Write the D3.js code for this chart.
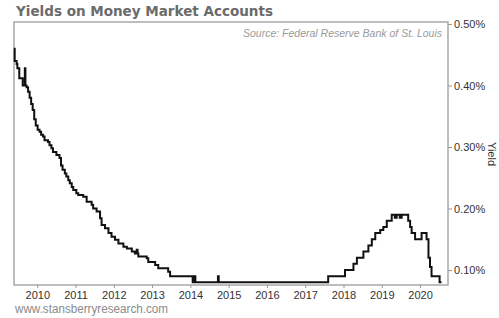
<!DOCTYPE html>
<html><head><meta charset="utf-8">
<script src="https://cdn.jsdelivr.net/npm/d3@7"></script>
<style>body{margin:0;background:#fff;}svg{display:block;}</style>
</head><body>
<svg id="c" width="499" height="318"></svg>
<script>
// Step series: date (fractional year) at which each level begins, and yield (%)
const dates = [2009.39,2009.41,2009.46,2009.48,2009.53,2009.62,2009.675,2009.69,2009.72,2009.76,2009.80,2009.84,2009.88,2009.92,2009.96,
  2010.01,2010.06,2010.10,2010.15,2010.19,2010.28,2010.32,2010.37,2010.41,2010.50,2010.58,2010.62,2010.66,2010.72,2010.76,2010.81,2010.85,2010.90,2010.94,
  2011.02,2011.07,2011.20,2011.29,2011.42,2011.46,2011.55,2011.64,2011.68,2011.77,2011.86,2011.94,
  2012.03,2012.12,2012.25,2012.34,2012.47,2012.55,2012.60,2012.62,2012.64,2012.86,2012.90,
  2013.08,2013.16,2013.42,2013.47,2014.06,2014.10,2014.13,2014.72,2014.74,
  2017.60,2018.04,2018.26,2018.35,2018.52,2018.65,2018.74,2018.83,2018.96,
  2019.04,2019.13,2019.26,2019.34,2019.39,2019.47,2019.52,2019.69,2019.74,2019.78,2019.87,
  2020.04,2020.17,2020.22,2020.26,2020.30,2020.51,2020.56];
const yields = [0.46,0.44,0.435,0.428,0.412,0.40,0.428,0.40,0.397,0.39,0.38,0.37,0.36,0.345,0.335,
  0.328,0.325,0.32,0.317,0.311,0.308,0.303,0.298,0.292,0.287,0.282,0.27,0.263,0.257,0.252,0.246,0.241,0.235,0.23,
  0.225,0.222,0.219,0.211,0.206,0.20,0.195,0.184,0.173,0.168,0.16,0.154,
  0.149,0.143,0.138,0.135,0.13,0.127,0.133,0.127,0.122,0.119,0.113,
  0.108,0.103,0.097,0.09,0.08,0.09,0.08,0.09,0.08,
  0.09,0.10,0.11,0.12,0.13,0.14,0.15,0.16,0.165,
  0.17,0.18,0.19,0.185,0.19,0.185,0.19,0.18,0.17,0.16,0.15,
  0.16,0.15,0.12,0.105,0.09,0.08,0.08];
const xTicks = [2010,2011,2012,2013,2014,2015,2016,2017,2018,2019,2020];
const yTicks = [0.10,0.20,0.30,0.40,0.50];
const title = "Yields on Money Market Accounts";
const source = "Source: Federal Reserve Bank of St. Louis";
const footer = "www.stansberryresearch.com";
const yLabel = "Yield";

const data = dates.map((d,i)=>({d, v: yields[i]}));
const L = 14, R = 448, T = 22, B = 285;
const x = d3.scaleLinear().domain([2009.392, 2020.73]).range([L, R]);
const y = d3.scaleLinear().domain([0.0756, 0.5033]).range([B, T]);
const svg = d3.select("#c");

// title
svg.append("text").attr("x", 16).attr("y", 16)
  .attr("font-family", "DejaVu Sans").attr("font-weight", "bold").attr("font-size", 14)
  .attr("fill", "#6b6b6b").attr("textLength", 257).attr("lengthAdjust", "spacingAndGlyphs").text(title);

// frame
svg.append("rect").attr("x", L).attr("y", T).attr("width", R - L).attr("height", B - T)
  .attr("fill", "none").attr("stroke", "#a8a8a8").attr("stroke-width", 1.5);

// axes
const xAxis = svg.append("g").attr("transform", `translate(0,${B})`)
  .call(d3.axisBottom(x).tickValues(xTicks).tickFormat(d3.format("d")).tickSize(3).tickPadding(3));
const yAxis = svg.append("g").attr("transform", `translate(${R},0)`)
  .call(d3.axisRight(y).tickValues(yTicks).tickFormat(d => d.toFixed(2) + "%").tickSize(4).tickPadding(2));
[xAxis, yAxis].forEach(g => {
  g.select(".domain").remove();
  g.selectAll("line").attr("stroke", "#999");
  g.selectAll("text").attr("fill", "#333").attr("font-family", "Liberation Sans, Arial").attr("font-size", 11);
});

// line
const line = d3.line().x(p => x(p.d)).y(p => y(p.v)).curve(d3.curveStepAfter);
svg.append("path").datum(data).attr("d", line)
  .attr("fill", "none").attr("stroke", "#111").attr("stroke-width", 2).attr("stroke-linejoin", "miter");

// source
svg.append("text").attr("x", 442).attr("y", 37).attr("text-anchor", "end")
  .attr("font-family", "Liberation Sans, Arial").attr("font-style", "italic").attr("font-size", 10.5)
  .attr("fill", "#9a9a9a").text(source);

// y label
svg.append("text").attr("transform", "translate(488,154) rotate(90)").attr("text-anchor", "middle")
  .attr("font-family", "Liberation Sans, Arial").attr("font-size", 11).attr("fill", "#333").text(yLabel);

// footer
svg.append("text").attr("x", 15).attr("y", 313)
  .attr("font-family", "Liberation Sans, Arial").attr("font-size", 12)
  .attr("fill", "#8a8a8a").attr("textLength", 153).attr("lengthAdjust", "spacingAndGlyphs").text(footer);
</script>
</body></html>
